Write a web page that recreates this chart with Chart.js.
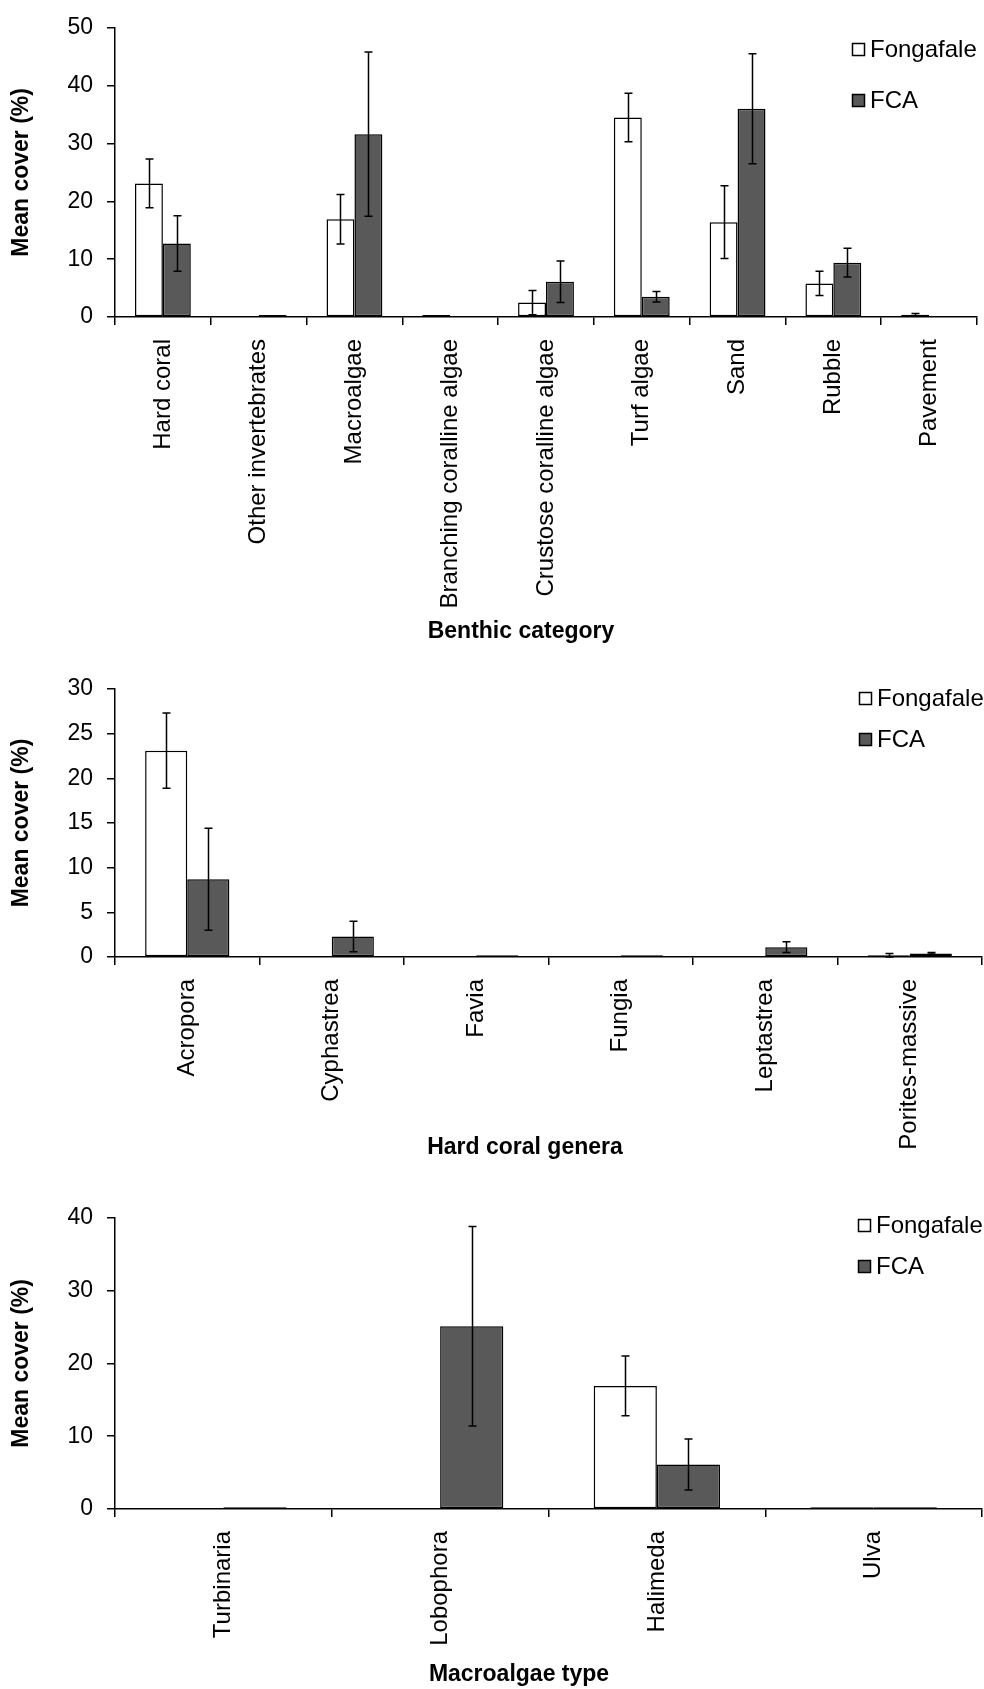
<!DOCTYPE html>
<html>
<head>
<meta charset="utf-8">
<script src="https://cdn.jsdelivr.net/npm/chart.js@4.4.1/dist/chart.umd.min.js"></script>
<style>
  html, body { margin: 0; padding: 0; background: #fff; }
  canvas { display: block; }
</style>
</head>
<body>
<canvas id="chartBenthic" width="984" height="660"></canvas>
<canvas id="chartCoral" width="984" height="530"></canvas>
<canvas id="chartAlgae" width="984" height="499"></canvas>
<script>
// Benthic categories
const benthicLabels = ['Hard coral', 'Other invertebrates', 'Macroalgae', 'Branching coralline algae',
  'Crustose coralline algae', 'Turf algae', 'Sand', 'Rubble', 'Pavement'];
const benthicFongafale = [23.1, 0, 16.9, 0.35, 2.5, 34.5, 16.4, 5.8, 0.4];
const benthicFongafaleErr = [4.2, 0, 4.3, 0, 2.1, 4.2, 6.3, 2.1, 0.2];
const benthicFCA = [12.7, 0.35, 31.6, 0, 6.1, 3.5, 36.0, 9.4, 0];
const benthicFCAErr = [4.8, 0, 14.2, 0, 3.6, 0.9, 9.5, 2.5, 0];

// Hard coral genera
const coralLabels = ['Acropora', 'Cyphastrea', 'Favia', 'Fungia', 'Leptastrea', 'Porites-massive'];
const coralFongafale = [23.1, 0, 0, 0, 0, 0.2];
const coralFongafaleErr = [4.2, 0, 0, 0, 0, 0.2];
const coralFCA = [8.7, 2.3, 0.2, 0.2, 1.1, 0.4];
const coralFCAErr = [5.7, 1.7, 0, 0, 0.6, 0.1];

// Macroalgae types
const algaeLabels = ['Turbinaria', 'Lobophora', 'Halimeda', 'Ulva'];
const algaeFongafale = [0, 0, 16.9, 0.25];
const algaeFongafaleErr = [0, 0, 4.1, 0];
const algaeFCA = [0.25, 25.1, 6.1, 0.25];
const algaeFCAErr = [0, 13.7, 3.5, 0];

const FONT = 'Arial, "Liberation Sans", sans-serif';
const FILL_FONGAFALE = '#ffffff';
const FILL_FCA = '#595959';

// error bars drawn from each dataset's "errors" array
const errorBars = {
  id: 'errorBars',
  afterDatasetsDraw(chart) {
    const ctx = chart.ctx;
    const yScale = chart.scales.y;
    ctx.save();
    ctx.strokeStyle = '#000';
    ctx.lineWidth = 1.5;
    chart.data.datasets.forEach((ds, i) => {
      const meta = chart.getDatasetMeta(i);
      meta.data.forEach((bar, j) => {
        const err = ds.errors[j];
        if (!err) return;
        const v = ds.data[j];
        const top = yScale.getPixelForValue(v + err);
        const bot = yScale.getPixelForValue(Math.max(v - err, 0));
        const x = Math.round(bar.x) + 0.5;
        ctx.beginPath();
        ctx.moveTo(x, top); ctx.lineTo(x, bot);
        ctx.moveTo(x - 4, top); ctx.lineTo(x + 4, top);
        ctx.moveTo(x - 4, bot); ctx.lineTo(x + 4, bot);
        ctx.stroke();
      });
    });
    ctx.restore();
  }
};

// legend boxes in the upper right, and the x axis caption
const decorations = {
  id: 'decorations',
  afterDraw(chart, args, opts) {
    const ctx = chart.ctx;
    ctx.save();
    ctx.font = '24px ' + FONT;
    ctx.textBaseline = 'middle';
    ctx.textAlign = 'left';
    chart.data.datasets.forEach((ds, i) => {
      const top = opts.legendTop + i * opts.legendGap;
      ctx.fillStyle = ds.backgroundColor;
      ctx.fillRect(opts.legendLeft, top, 13, 13);
      ctx.strokeStyle = '#000';
      ctx.lineWidth = 1.5;
      ctx.strokeRect(opts.legendLeft + 0.5, top + 0.5, 12, 12);
      ctx.fillStyle = '#000';
      ctx.fillText(ds.label, opts.legendLeft + 18, top + 7);
    });
    ctx.font = 'bold 23px ' + FONT;
    ctx.textAlign = 'center';
    ctx.fillText(opts.caption, opts.captionX, opts.captionY);
    ctx.restore();
  }
};

function makeChart(id, labels, fong, fongErr, fca, fcaErr, yMax, yStep, box, deco) {
  const canvas = document.getElementById(id);
  return new Chart(canvas, {
    type: 'bar',
    data: {
      labels: labels,
      datasets: [
        { label: 'Fongafale', data: fong, errors: fongErr, backgroundColor: FILL_FONGAFALE,
          borderColor: '#000', borderWidth: 1.5, borderSkipped: false },
        { label: 'FCA', data: fca, errors: fcaErr, backgroundColor: FILL_FCA,
          borderColor: '#000', borderWidth: 1.5, borderSkipped: false }
      ]
    },
    options: {
      responsive: false,
      animation: false,
      layout: { padding: { top: box.top, right: box.right, left: 0, bottom: 0 } },
      datasets: { bar: { categoryPercentage: 0.583, barPercentage: 1.0 } },
      plugins: {
        legend: { display: false },
        tooltip: { enabled: false },
        decorations: deco
      },
      scales: {
        x: {
          afterFit(scale) { scale.height = box.xHeight; },
          grid: { display: true, drawOnChartArea: false, offset: true, tickLength: 8, color: '#000', lineWidth: 1.5 },
          border: { display: true, color: '#000', width: 1.5 },
          ticks: { autoSkip: false, minRotation: 90, maxRotation: 90, padding: 14, color: '#000',
            font: { family: FONT, size: 24 } }
        },
        y: {
          min: 0, max: yMax,
          afterFit(scale) { scale.width = 115; },
          grid: { display: true, drawOnChartArea: false, tickLength: 8, color: '#000', lineWidth: 1.5 },
          border: { display: true, color: '#000', width: 1.5 },
          ticks: { stepSize: yStep, padding: 14, color: '#000', font: { family: FONT, size: 23 } },
          title: { display: true, text: 'Mean cover (%)', color: '#000', padding: { top: 8, bottom: 0 },
            font: { family: FONT, size: 23, weight: 'bold' } }
        }
      }
    },
    plugins: [errorBars, decorations]
  });
}

makeChart('chartBenthic', benthicLabels, benthicFongafale, benthicFongafaleErr, benthicFCA, benthicFCAErr,
  50, 10, { top: 25, right: 7, xHeight: 343 },
  { legendLeft: 852, legendTop: 43, legendGap: 51, caption: 'Benthic category', captionX: 521, captionY: 632 });

makeChart('chartCoral', coralLabels, coralFongafale, coralFongafaleErr, coralFCA, coralFCAErr,
  30, 5, { top: 29, right: 2, xHeight: 233 },
  { legendLeft: 859, legendTop: 32, legendGap: 41, caption: 'Hard coral genera', captionX: 525, captionY: 488 });

makeChart('chartAlgae', algaeLabels, algaeFongafale, algaeFongafaleErr, algaeFCA, algaeFCAErr,
  40, 10, { top: 27, right: 2, xHeight: 180 },
  { legendLeft: 858, legendTop: 29, legendGap: 41, caption: 'Macroalgae type', captionX: 519, captionY: 485 });
</script>
</body>
</html>
